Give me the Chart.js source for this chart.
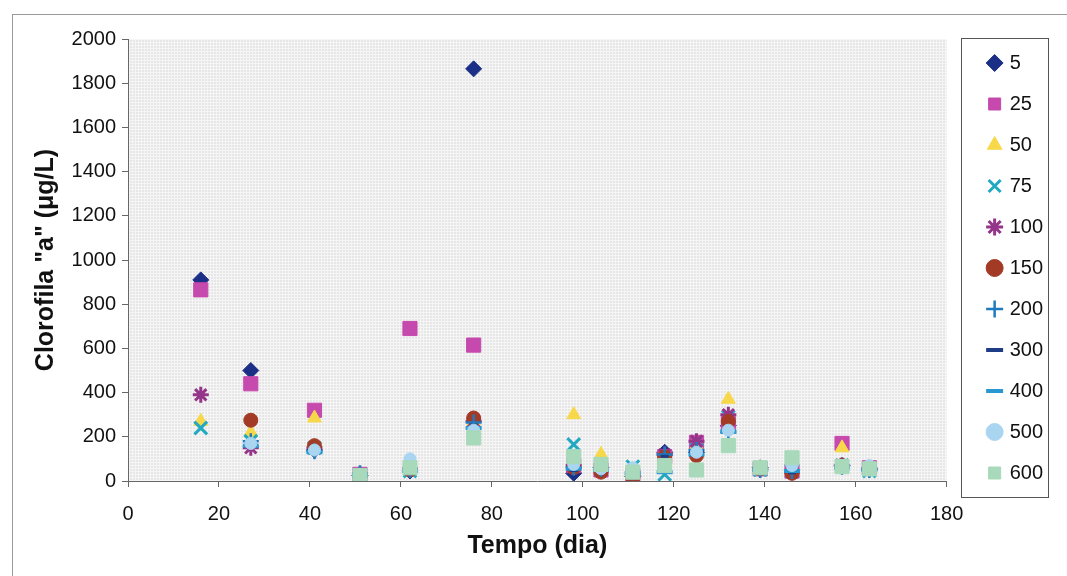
<!DOCTYPE html>
<html>
<head>
<meta charset="utf-8">
<script src="https://cdn.jsdelivr.net/npm/chart.js@4"></script>
<style>
  html, body { margin: 0; padding: 0; background: #fff; }
  #wrap { width: 1067px; height: 576px; position: relative; }
</style>
</head>
<body>
<div id="wrap"><canvas id="c" width="1067" height="576"></canvas></div>
<script>
// sampling days (x) and chlorophyll "a" per depth series (ug/L)
const days = [16, 27, 41, 51, 62, 76, 98, 104, 111, 118, 125, 132, 139, 146, 157, 163];

const s5   = [910, 500, 140, 25, 45, 1865, 35, 60, 20, 130, 130, 250, 60, 50, 70, 55];
const s25  = [865, 440, 320, 30, 690, 615, 70, 50, 25, 110, 175, 260, 55, 45, 170, 60];
const s50  = [270, 220, 285, 30, 60, 270, 300, 120, 35, 100, 160, 370, 60, 45, 150, 60];
const s75  = [240, 180, 150, 25, 45, 260, 165, 70, 65, 30, 140, 290, 50, 45, 70, 45];
const s100 = [390, 150, 150, 30, 55, 270, 70, 55, 30, 120, 180, 300, 55, 40, 70, 55];
const s150 = [null, 275, 160, 20, 50, 285, 60, 40, 15, 110, 115, 270, 55, 35, 70, 60];
const s200 = [null, 180, 135, 35, 50, 265, 60, 55, 40, 120, 140, 220, 50, 45, 65, 50];
const s300 = [null, 170, 140, 20, 50, 250, 50, 45, 30, 110, 125, 230, 55, 40, 60, 45];
const s400 = [null, 160, 130, 25, 45, 240, 55, 50, 35, 40, 120, 225, 50, 45, 60, 50];
const s500 = [null, 170, 140, 30, 100, 230, 75, 55, 60, 70, 130, 230, 60, 70, 70, 70];
const s600 = [null, null, null, 25, 60, 195, 110, 75, 40, 70, 50, 160, 60, 105, 65, 55];

const seriesLabels = ['5', '25', '50', '75', '100', '150', '200', '300', '400', '500', '600'];
const seriesValues = [s5, s25, s50, s75, s100, s150, s200, s300, s400, s500, s600];

const xTicks = [0, 20, 40, 60, 80, 100, 120, 140, 160, 180];
const yTicks = [0, 200, 400, 600, 800, 1000, 1200, 1400, 1600, 1800, 2000];

// marker look per series (Excel-like)
const styles = [
  { pointStyle: 'rectRot',  color: '#1c2f86', radius: 8,  bw: 1 },
  { pointStyle: 'rect',     color: '#c649ad', radius: 10, bw: 1 },
  { pointStyle: 'triangle', color: '#f7d84a', radius: 8,  bw: 1 },
  { pointStyle: 'crossRot', color: '#22a9c2', radius: 9,  bw: 3 },
  { pointStyle: 'star',     color: '#94358a', radius: 8,  bw: 3 },
  { pointStyle: 'circle',   color: '#a33a26', radius: 7,  bw: 1 },
  { pointStyle: 'cross',    color: '#1d7bbd', radius: 8,  bw: 2.5 },
  { pointStyle: 'line',     color: '#1f3c86', radius: 4,  bw: 4 },
  { pointStyle: 'line',     color: '#2a98d0', radius: 8,  bw: 4 },
  { pointStyle: 'circle',   color: '#a9d5f0', radius: 6,  bw: 1 },
  { pointStyle: 'rect',     color: '#a7d9ba', radius: 10, bw: 1 },
];

const datasets = seriesLabels.map((lab, i) => ({
  label: lab,
  data: days.map((d, j) => ({ x: d, y: seriesValues[i][j] })).filter(p => p.y !== null),
  pointStyle: styles[i].pointStyle,
  pointRadius: styles[i].radius,
  pointBorderWidth: styles[i].bw,
  backgroundColor: styles[i].color,
  borderColor: styles[i].color,
  showLine: false,
  order: -i, // later series painted on top, like Excel
}));

function makePattern() {
  const p = document.createElement('canvas');
  p.width = 3; p.height = 3;
  const g = p.getContext('2d');
  g.fillStyle = '#e6e6e6';
  g.fillRect(0, 0, 3, 3);
  g.fillStyle = '#f5f5f5';
  g.fillRect(0, 0, 3, 1);
  g.fillRect(0, 0, 1, 3);
  return g.createPattern(p, 'repeat');
}

const frame = {
  id: 'frame',
  beforeDraw(chart) {
    const { ctx, chartArea: a } = chart;
    ctx.save();
    ctx.strokeStyle = '#9a9a9a';
    ctx.lineWidth = 1;
    ctx.strokeRect(12.5, 14.5, 1060, 570);
    ctx.fillStyle = makePattern();
    ctx.fillRect(a.left, a.top, a.right - a.left, a.bottom - a.top);
    ctx.restore();
  },
  afterDraw(chart) {
    const { ctx } = chart;
    ctx.save();
    ctx.strokeStyle = '#555';
    ctx.lineWidth = 1;
    ctx.strokeRect(961.5, 38.5, 87, 459);
    ctx.restore();
  }
};

Chart.defaults.font.family = '"Liberation Sans", Arial, sans-serif';
Chart.defaults.color = '#111';

new Chart(document.getElementById('c'), {
  type: 'scatter',
  data: { datasets },
  plugins: [frame],
  options: {
    responsive: false,
    animation: false,
    layout: { padding: { left: 14, top: 32, right: 14, bottom: 14 } },
    scales: {
      x: {
        type: 'linear',
        min: 0, max: 180,
        afterBuildTicks: (s) => { s.ticks = xTicks.map(v => ({ value: v })); },
        afterFit: (s) => { s.height = 81; },
        ticks: { font: { size: 20 }, color: '#111', padding: 15, maxRotation: 0, callback: v => String(v) },
        grid: { drawOnChartArea: false, drawTicks: true, tickLength: 6, color: '#666' },
        border: { display: true, color: '#666', width: 1 },
        title: { display: true, text: 'Tempo (dia)', font: { size: 25, weight: 'bold' }, color: '#111', padding: { top: 0, bottom: 1 } },
      },
      y: {
        type: 'linear',
        min: 0, max: 2000,
        afterBuildTicks: (s) => { s.ticks = yTicks.map(v => ({ value: v })); },
        afterFit: (s) => { s.width = 114; },
        ticks: { font: { size: 20 }, color: '#111', padding: 6, callback: v => String(v) },
        grid: { drawOnChartArea: false, drawTicks: true, tickLength: 6, color: '#666' },
        border: { display: true, color: '#666', width: 1 },
        title: { display: true, text: 'Clorofila "a" (\u03BCg/L)', font: { size: 25, weight: 'bold' }, color: '#111', padding: { top: 17, bottom: 0 } },
      },
      // empty spacer between plot and legend
      gap: {
        type: 'linear',
        position: 'right',
        display: true,
        afterFit: (s) => { s.width = 22; },
        ticks: { display: false },
        grid: { display: false },
        border: { display: false },
      },
    },
    plugins: {
      tooltip: { enabled: false },
      title: { display: true, text: ' ', font: { size: 5 }, padding: { top: 0, bottom: 1 } },
      legend: {
        position: 'right',
        maxWidth: 90,
        align: 'start',
        labels: {
          usePointStyle: true,
          boxWidth: 10,
          boxHeight: 12,
          padding: 21,
          font: { size: 20 },
          color: '#111',
          sort: (a, b) => a.datasetIndex - b.datasetIndex,
        },
      },
    },
  },
});
</script>
</body>
</html>
